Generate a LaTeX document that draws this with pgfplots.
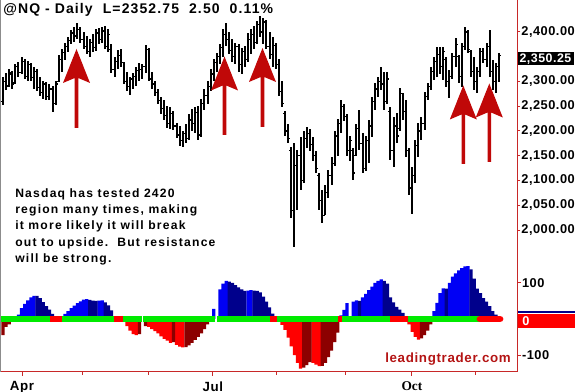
\documentclass[border=0pt]{standalone}
\usepackage{pgfplots}
\pgfplotsset{compat=1.18}
\usepackage{pgfplotstable}
\usepackage{fontspec}
\setmainfont{Liberation Sans}
\newfontfamily\ticksf{Liberation Sans}[LetterSpace=4]
\newfontfamily\titlef{Liberation Sans}[LetterSpace=8]
\newfontfamily\notesf{Liberation Sans}[LetterSpace=10]
\newfontfamily\webf{Liberation Sans}[LetterSpace=5]
\newfontfamily\timesb{Liberation Serif}
\definecolor{axred}{RGB}{200,40,40}
\definecolor{arrred}{RGB}{192,8,8}
\definecolor{hblue}{RGB}{0,0,245}
\definecolor{hnavy}{RGB}{0,0,140}
\definecolor{hred}{RGB}{255,0,0}
\definecolor{hdred}{RGB}{140,0,0}
\definecolor{bgreen}{RGB}{0,235,0}
\definecolor{txtred}{RGB}{180,20,20}
\pgfdeclareplotmark{otick}{\pgfpathmoveto{\pgfpoint{-1.5pt}{0pt}}\pgfpathlineto{\pgfpoint{0pt}{0pt}}\pgfusepathqstroke}
\pgfdeclareplotmark{ctick}{\pgfpathmoveto{\pgfpoint{0pt}{0pt}}\pgfpathlineto{\pgfpoint{1.5pt}{0pt}}\pgfusepathqstroke}
\pgfplotstableread{
i O H L C
0 2260 2309 2253 2300
1 2300 2318 2283 2290
2 2292 2325 2288 2318
3 2315 2322 2285 2295
4 2298 2335 2295 2330
5 2330 2340 2310 2318
6 2318 2350 2315 2340
7 2340 2345 2305 2310
8 2310 2342 2300 2335
9 2335 2338 2300 2308
10 2308 2330 2285 2320
11 2320 2325 2280 2288
12 2288 2310 2270 2278
13 2278 2300 2265 2295
14 2295 2298 2262 2270
15 2270 2295 2262 2285
16 2285 2290 2238 2255
17 2255 2300 2252 2295
18 2300 2354 2299 2345
19 2345 2365 2320 2358
20 2358 2378 2343 2370
21 2370 2390 2360 2382
22 2382 2404 2375 2398
23 2398 2410 2380 2392
24 2392 2418 2385 2405
25 2405 2410 2378 2385
26 2385 2400 2365 2370
27 2370 2392 2355 2360
28 2360 2385 2350 2378
29 2378 2395 2360 2368
30 2368 2405 2362 2398
31 2398 2408 2375 2385
32 2385 2410 2378 2402
33 2402 2412 2365 2370
34 2370 2405 2360 2395
35 2365 2375 2318 2325
36 2325 2350 2310 2340
37 2340 2364 2325 2352
38 2352 2365 2330 2338
39 2338 2340 2295 2300
40 2300 2320 2280 2290
41 2290 2310 2272 2305
42 2305 2318 2285 2310
43 2310 2330 2290 2322
44 2322 2337 2300 2325
45 2325 2335 2305 2330
46 2330 2374 2318 2365
47 2365 2368 2300 2305
48 2305 2320 2285 2295
49 2295 2300 2270 2278
50 2278 2285 2255 2262
51 2262 2268 2235 2245
52 2245 2263 2222 2232
53 2232 2250 2206 2215
54 2215 2248 2205 2235
55 2235 2240 2202 2210
56 2210 2216 2185 2192
57 2192 2210 2170 2180
58 2180 2200 2168 2195
59 2195 2215 2175 2185
60 2185 2235 2182 2222
61 2222 2245 2200 2215
62 2215 2248 2195 2238
63 2238 2250 2182 2192
64 2192 2265 2188 2255
65 2255 2285 2242 2272
66 2272 2300 2255 2290
67 2290 2325 2280 2315
68 2315 2345 2300 2338
69 2338 2358 2320 2350
70 2350 2375 2335 2368
71 2368 2405 2350 2395
72 2395 2418 2372 2385
73 2385 2400 2355 2362
74 2362 2385 2340 2350
75 2350 2378 2335 2370
76 2370 2375 2320 2335
77 2335 2368 2315 2360
78 2360 2372 2330 2345
79 2345 2398 2340 2385
80 2385 2405 2355 2395
81 2395 2412 2365 2378
82 2378 2422 2375 2415
83 2415 2432 2390 2400
84 2400 2428 2375 2420
85 2420 2425 2365 2370
86 2370 2400 2345 2355
87 2355 2390 2330 2372
88 2372 2378 2325 2335
89 2335 2345 2270 2280
90 2280 2300 2248 2255
91 2235 2240 2190 2200
92 2200 2215 2175 2185
93 2160 2168 2025 2040
94 2040 2176 1966 2130
95 2130 2162 2040 2150
96 2150 2188 2080 2100
97 2100 2200 2095 2185
98 2185 2208 2165 2195
99 2195 2205 2160 2172
100 2172 2188 2140 2150
101 2150 2160 2115 2125
102 2110 2115 2040 2060
103 2060 2080 2014 2030
104 2030 2090 2030 2075
105 2075 2121 2065 2110
106 2110 2148 2090 2135
107 2135 2200 2130 2190
108 2190 2225 2150 2215
109 2215 2262 2195 2250
110 2250 2255 2220 2230
111 2230 2235 2150 2160
112 2160 2190 2140 2180
113 2160 2165 2101 2115
114 2150 2215 2150 2205
115 2205 2242 2162 2175
116 2175 2196 2115 2125
117 2125 2190 2120 2180
118 2180 2222 2135 2210
119 2210 2269 2188 2260
120 2260 2297 2242 2285
121 2285 2309 2269 2300
122 2300 2329 2283 2295
123 2295 2319 2242 2260
124 2260 2319 2255 2305
125 2240 2248 2141 2160
126 2160 2228 2127 2210
127 2210 2236 2176 2190
128 2205 2287 2200 2275
129 2275 2277 2222 2240
130 2240 2263 2148 2160
131 2160 2165 2070 2085
132 2085 2127 2032 2110
133 2110 2182 2095 2170
134 2170 2216 2148 2200
135 2200 2228 2182 2215
136 2215 2279 2202 2270
137 2270 2297 2262 2290
138 2290 2329 2283 2320
139 2320 2350 2303 2340
140 2340 2370 2309 2355
141 2355 2370 2316 2330
142 2330 2370 2303 2360
143 2345 2350 2289 2300
144 2300 2323 2267 2310
145 2310 2357 2305 2350
146 2350 2388 2329 2375
147 2350 2354 2297 2310
148 2310 2378 2289 2370
149 2370 2410 2364 2400
150 2400 2404 2357 2365
151 2360 2364 2309 2320
152 2320 2349 2283 2300
153 2300 2329 2277 2320
154 2320 2368 2309 2360
155 2360 2368 2337 2345
156 2345 2378 2329 2370
157 2370 2404 2309 2320
158 2320 2343 2283 2300
159 2300 2337 2277 2330
160 2330 2357 2299 2352.75
}\ohlc
\newcommand{\uparr}[3]{\fill[arrred] (#1,#2) -- (#1+13.5,#2+34) -- (#1+1.8,#2+29) -- (#1+1.8,#3) -- (#1-1.8,#3) -- (#1-1.8,#2+29) -- (#1-13.5,#2+34) -- cycle;}
\begin{document}
\begin{tikzpicture}
\useasboundingbox (0,0) rectangle (431.25pt,294pt);
% price panel
\begin{axis}[
 at={(0.75pt,294pt)}, anchor=north west,
 width=387pt, height=196.5pt, scale only axis,
 xmin=-0.645, xmax=165.81, ymin=1935.4, ymax=2464.6,
 axis x line=none, axis y line*=right,
 axis line style={axred, line width=0.75pt},
 ytick={2000,2050,2100,2150,2200,2250,2300,2400},
 yticklabels={{2,000.00},{2,050.00},{2,100.00},{2,150.00},{2,200.00},{2,250.00},{2,300.00},{2,400.00}},
 tick style={axred, line width=0.75pt}, major tick length=2.5pt, tick align=outside,
 yticklabel style={font=\ticksf\bfseries\fontsize{9.6}{10}\selectfont, inner xsep=0.6pt, text=black},
]
\addplot[only marks, mark=otick, mark options={line width=0.9pt, black},
 error bars/.cd, y dir=both, y explicit, error mark=none,
 error bar style={line width=1.5pt, black}]
 table[x=i, y=O, y error plus expr=\thisrow{H}-\thisrow{O}, y error minus expr=\thisrow{O}-\thisrow{L}] {\ohlc};
\addplot[only marks, mark=ctick, mark options={line width=0.9pt, black}] table[x=i, y=C] {\ohlc};
\end{axis}
% oscillator panel
\begin{axis}[
 at={(0.75pt,97.5pt)}, anchor=north west,
 width=387pt, height=82.5pt, scale only axis,
 xmin=-0.645, xmax=165.81, ymin=-147.2, ymax=158.3,
 axis x line*=bottom, axis y line*=right,
 axis line style={axred, line width=0.75pt},
 xtick={6.13,67.7,131.9}, xticklabels={Apr,Jul,{\timesb\bfseries Oct}},
 minor xtick={25.5,46.8,88.1,110.6,152.3},
 ytick={-100,100}, yticklabels={-100,100},
 tick style={axred, line width=0.75pt}, major tick length=3pt, minor tick length=2.2pt, tick align=outside,
 yticklabel style={font=\ticksf\bfseries\fontsize{9.6}{10}\selectfont, inner xsep=0.6pt, text=black},
 xticklabel style={font=\ticksf\bfseries\fontsize{10}{10}\selectfont, text=black, inner ysep=4pt},
]
\addplot[ybar, bar width=1.06, bar shift=0pt, fill=hblue, draw=none] coordinates {
(5,12)(6,30)(7,42)(8,52)(9,60)(10,64)(19,4)(20,14)(21,22)(22,30)(23,37)(24,44)(25,49)(26,54)(27,55)(31,51)(32,52)(68,28)(70,82)(71,98)(72,106)(79,79)(80,80)(109,10)(110,25)(111,44)(113,48)(114,52)(116,60)(117,70)(118,80)(119,90)(120,100)(121,106)(122,110)(139,22)(140,45)(141,72)(142,85)(144,100)(145,118)(146,127)(147,135)(148,141)(149,146)(150,147)};
\addplot[ybar, bar width=1.06, bar shift=0pt, fill=hnavy, draw=none] coordinates {
(11,64)(12,58)(13,47)(14,36)(15,26)(16,14)(17,5)(28,53)(29,51)(30,50)(33,46)(34,38)(35,24)(36,8)(73,104)(74,100)(75,94)(76,88)(77,82)(78,78)(81,79)(82,78)(83,74)(84,62)(85,48)(86,32)(87,15)(115,50)(123,106)(124,98)(125,60)(126,46)(127,34)(128,26)(129,17)(130,8)(143,84)(151,138)(152,112)(153,84)(154,72)(155,58)(156,48)(157,36)(158,22)(159,12)(160,4)};
\addplot[ybar, bar width=1.06, bar shift=0pt, fill=hred, draw=none] coordinates {
(39,-8)(40,-20)(41,-32)(42,-42)(43,-45)(47,-22)(48,-28)(49,-34)(50,-40)(51,-48)(52,-55)(53,-60)(54,-66)(56,-72)(57,-77)(58,-79)(89,-6)(90,-16)(91,-30)(92,-52)(93,-76)(94,-100)(95,-122)(96,-138)(100,-122)(101,-127)(102,-131)(131,-15)(132,-36)(133,-50)(134,-57)};
\addplot[ybar, bar width=1.06, bar shift=0pt, fill=hdred, draw=none] coordinates {
(0,-45)(1,-22)(2,-15)(44,-42)(46,-20)(55,-64)(59,-78)(60,-73)(61,-66)(62,-58)(63,-50)(64,-40)(65,-28)(66,-15)(67,-4)(97,-135)(98,-128)(99,-120)(103,-130)(104,-122)(105,-106)(106,-88)(107,-64)(108,-38)(135,-54)(136,-45)(137,-32)(138,-15)};
% zero band
\addplot[bgreen, line width=5.2pt, mark=none] coordinates {(-0.645,0)(15.2,0)};
\addplot[hred, line width=5.2pt, mark=none] coordinates {(15.2,0)(19,0)};
\addplot[bgreen, line width=5.2pt, mark=none] coordinates {(19,0)(35.8,0)};
\addplot[hred, line width=5.2pt, mark=none] coordinates {(35.8,0)(38.7,0)};
\addplot[bgreen, line width=5.2pt, mark=none] coordinates {(38.7,0)(44.8,0)};
\addplot[bgreen, line width=5.2pt, mark=none] coordinates {(45.3,0)(68.5,0)};
\addplot[bgreen, line width=5.2pt, mark=none] coordinates {(69.1,0)(86.1,0)};
\addplot[hred, line width=5.2pt, mark=none] coordinates {(86.1,0)(88.4,0)};
\addplot[bgreen, line width=5.2pt, mark=none] coordinates {(88.4,0)(108.1,0)};
\addplot[hred, line width=5.2pt, mark=none] coordinates {(108.1,0)(109.4,0)};
\addplot[bgreen, line width=5.2pt, mark=none] coordinates {(109.4,0)(124.8,0)};
\addplot[hred, line width=5.2pt, mark=none] coordinates {(124.8,0)(130.6,0)};
\addplot[bgreen, line width=5.2pt, mark=none] coordinates {(130.6,0)(153.9,0)};
\addplot[hred, line width=5.2pt, mark=none, line cap=round] coordinates {(153.9,0)(160.3,0)};
\end{axis}
% decorations in pixel coordinates
\begin{scope}[x=0.75pt, y=-0.75pt, yshift=294pt]
\draw[black!45, line width=0.75pt] (0.5,0) -- (0.5,372);
\node[anchor=base west, inner sep=0, font=\titlef\bfseries\fontsize{10.5}{11}\selectfont] at (3,13.8) {@NQ - Daily\ \ L=2352.75\ \ 2.50\ \ 0.11\%};
\begin{scope}[every node/.style={anchor=base west, inner sep=0, font=\notesf\bfseries\fontsize{9.1}{11}\selectfont}]
\node at (15,197.3) {Nasdaq has tested 2420};
\node at (15,213.7) {region many times, making};
\node at (15,230) {it more likely it will break};
\node at (15,246.4) {out to upside.\ \ But resistance};
\node at (15,262.5) {will be strong.};
\end{scope}
\node[anchor=base west, inner sep=0, text=txtred, font=\webf\bfseries\fontsize{10}{11}\selectfont] at (385,363) {leadingtrader.com};
\fill[black] (518,52.5) rectangle (574,65.5);
\node[anchor=west, inner sep=0, text=white, font=\ticksf\bfseries\fontsize{9.3}{10}\selectfont] at (519.3,59.2) {2,350.25};
\fill[hnavy] (517.5,311) rectangle (575,313.5);
\fill[hred] (517.5,314) rectangle (575,328.5);
\node[text=white, inner sep=0, font=\ticksf\bfseries\fontsize{9.6}{10}\selectfont] at (526,321.5) {0};
\uparr{76.5}{49}{128}
\uparr{224.5}{56.5}{135}
\uparr{262.5}{48}{127}
\uparr{463.3}{85.5}{164}
\uparr{489.3}{83.5}{162}
\end{scope}
\end{tikzpicture}
\end{document}
